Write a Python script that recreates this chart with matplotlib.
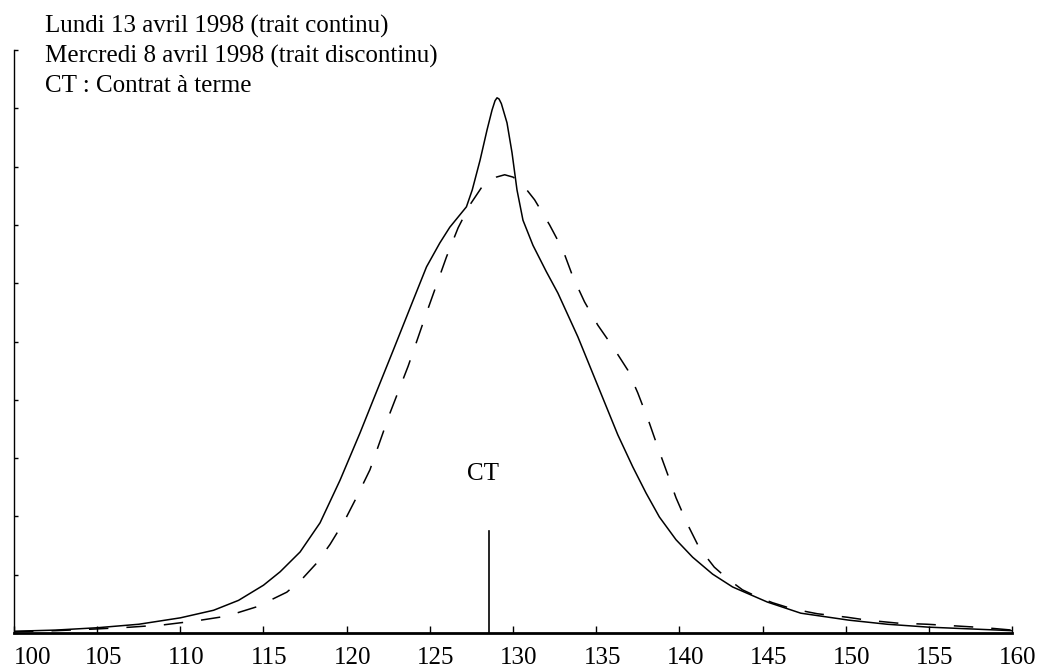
import matplotlib
matplotlib.use("Agg")
import matplotlib.pyplot as plt
import matplotlib.transforms as mtrans

plt.rcParams['font.family'] = ['Liberation Serif', 'DejaVu Serif']
plt.rcParams['lines.scale_dashes'] = False

# Solid curve: Lundi 13 avril 1998
solid_x = [100.0, 102.5, 105.0, 107.5, 110.0, 112.0, 113.5, 115.0, 116.0, 117.2,
           118.4, 119.6, 120.8, 121.6, 122.8, 124.0, 124.8, 125.6, 126.2, 127.2,
           127.55, 128.02, 128.44, 128.74, 128.92, 129.04, 129.16, 129.3, 129.64, 129.94,
           130.24, 130.6, 131.2, 132.0, 132.7, 133.9, 135.4, 136.3, 137.2, 138.0,
           138.8, 139.8, 140.8, 142.0, 143.2, 145.3, 147.3, 150.2, 152.5, 155.0,
           157.5, 160.0]
solid_y = [0.03, 0.05, 0.09, 0.15, 0.26, 0.39, 0.56, 0.82, 1.05, 1.39,
           1.89, 2.62, 3.43, 4.00, 4.85, 5.71, 6.28, 6.69, 6.96, 7.31,
           7.60, 8.11, 8.63, 8.97, 9.13, 9.18, 9.16, 9.08, 8.75, 8.24,
           7.60, 7.08, 6.65, 6.20, 5.83, 5.08, 4.03, 3.40, 2.85, 2.40,
           1.99, 1.60, 1.30, 1.01, 0.79, 0.53, 0.34, 0.22, 0.15, 0.10,
           0.07, 0.04]

# Dashed curve: Mercredi 8 avril 1998
dash_x = [100.0, 102.5, 105.0, 107.0, 109.0, 111.0, 112.8, 114.6, 116.4, 117.3,
          118.2, 119.0, 119.9, 120.6, 121.4, 122.6, 123.7, 124.8, 126.0, 126.7,
          127.4, 128.2, 129.0, 129.5, 130.0, 130.5, 131.3, 132.2, 133.0, 133.6,
          134.3, 135.1, 136.0, 136.9, 137.5, 138.2, 138.7, 139.3, 139.8, 140.5,
          141.2, 142.1, 142.9, 143.8, 144.7, 145.6, 146.5, 147.4, 148.3, 149.2,
          150.1, 151.3, 153.1, 154.9, 156.7, 158.4, 160.0]
dash_y = [0.02, 0.04, 0.07, 0.10, 0.14, 0.21, 0.29, 0.45, 0.70, 0.92,
          1.20, 1.52, 1.94, 2.33, 2.80, 3.77, 4.58, 5.49, 6.45, 6.95,
          7.34, 7.68, 7.82, 7.86, 7.82, 7.72, 7.43, 7.00, 6.57, 6.11,
          5.68, 5.28, 4.91, 4.51, 4.12, 3.60, 3.19, 2.72, 2.32, 1.86,
          1.46, 1.13, 0.93, 0.74, 0.62, 0.52, 0.44, 0.38, 0.33, 0.30,
          0.27, 0.22, 0.17, 0.15, 0.12, 0.09, 0.05]

ct_x = 128.55
ct_height = 1.75
ct_label = "CT"
ct_label_pos = (128.2, 2.73)

xticks = [100, 105, 110, 115, 120, 125, 130, 135, 140, 145, 150, 155, 160]
yticks = list(range(0, 11))
header_lines = ["Lundi 13 avril 1998 (trait continu)",
                "Mercredi 8 avril 1998 (trait discontinu)",
                "CT : Contrat à terme"]

fig = plt.figure(figsize=(10.39, 6.68), dpi=100)
ax = fig.add_axes([14/1039, 1-633/668, (1012-14)/1039, (633-50)/668])

ax.plot(solid_x, solid_y, color='black', lw=1.1, solid_joinstyle='round')
ax.plot(dash_x, dash_y, color='black', lw=1.1, ls=(0, (14, 13)))
ax.plot([ct_x, ct_x], [0, ct_height], color='black', lw=1.2)
ax.text(ct_label_pos[0], ct_label_pos[1], ct_label, fontsize=18,
        ha='center', va='center')

ax.set_xlim(100, 160)
ax.set_ylim(0, 10)
ax.spines['top'].set_visible(False)
ax.spines['right'].set_visible(False)
ax.spines['bottom'].set_linewidth(2.0)
ax.spines['left'].set_linewidth(1.0)

ax.set_xticks(xticks)
ax.set_xticklabels([str(v) for v in xticks])
ax.set_yticks(yticks)
ax.set_yticklabels([])
ax.tick_params(axis='x', direction='in', length=5, width=1.0, labelsize=18, pad=10)
ax.tick_params(axis='y', direction='in', length=3, width=1.0)

for i, lab in enumerate(ax.get_xticklabels()):
    dx = 19 if i == 0 else 6
    lab.set_transform(lab.get_transform() +
                      mtrans.ScaledTranslation(dx/100, 0, fig.dpi_scale_trans))

baselines = [33, 63, 92]
for txt, b in zip(header_lines, baselines):
    fig.text(45/1039, 1-b/668, txt, fontsize=18, ha='left', va='baseline')

fig.savefig("out.png", dpi=100)
